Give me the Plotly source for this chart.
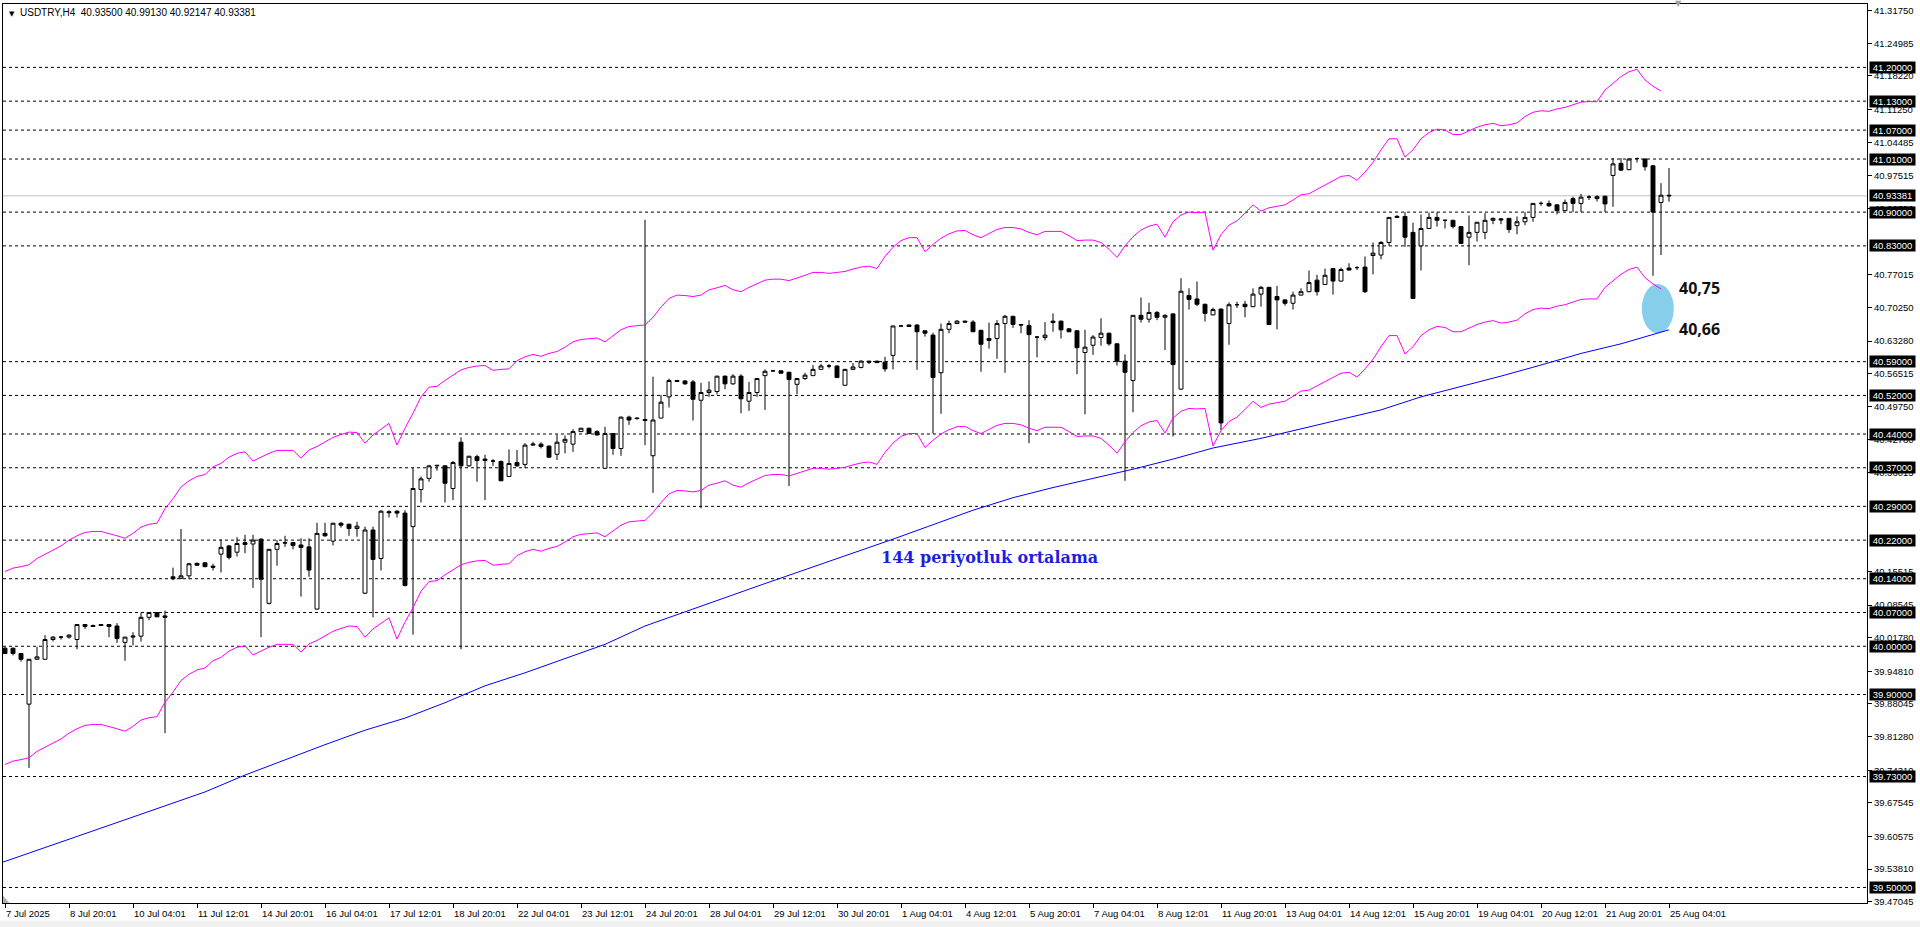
import plotly.graph_objects as go

# ---------------- data ----------------
bar_open = [
39.996,39.996,39.985,39.880,39.973,39.973,40.014,40.019,40.019,40.014,
40.045,40.043,40.045,40.045,40.042,40.008,40.019,40.021,40.060,40.070,
40.063,40.144,40.141,40.146,40.172,40.173,40.166,40.191,40.208,40.195,
40.215,40.212,40.222,40.089,40.201,40.215,40.215,40.210,40.206,40.077,
40.234,40.218,40.255,40.253,40.244,40.110,40.241,40.182,40.279,40.280,
40.276,40.248,40.325,40.348,40.374,40.374,40.327,40.423,40.374,40.393,
40.388,40.384,40.383,40.352,40.381,40.377,40.417,40.419,40.415,40.398,
40.423,40.419,40.445,40.452,40.445,40.369,40.441,40.410,40.475,40.473,
40.470,40.395,40.473,40.517,40.551,40.550,40.548,40.510,40.526,40.528,
40.560,40.544,40.560,40.508,40.526,40.561,40.571,40.571,40.568,40.543,
40.555,40.561,40.574,40.581,40.581,40.541,40.574,40.578,40.591,40.591,
40.589,40.603,40.664,40.666,40.666,40.654,40.645,40.567,40.657,40.669,
40.674,40.672,40.655,40.638,40.638,40.669,40.684,40.667,40.665,40.641,
40.640,40.674,40.674,40.658,40.654,40.609,40.624,40.640,40.649,40.627,
40.591,40.551,40.686,40.678,40.692,40.682,40.689,40.533,40.727,40.720,
40.709,40.687,40.699,40.669,40.708,40.709,40.704,40.730,40.744,40.725,
40.718,40.711,40.728,40.735,40.759,40.750,40.783,40.757,40.784,40.785,
40.786,40.810,40.811,40.837,40.891,40.891,40.858,40.830,40.866,40.889,
40.883,40.883,40.870,40.848,40.858,40.858,40.883,40.886,40.887,40.872,
40.880,40.889,40.918,40.918,40.915,40.903,40.928,40.918,40.931,40.928,
40.933,40.976,41.001,40.988,41.011,41.010,40.996,40.920,40.935]
bar_high = [
39.999,39.997,39.986,39.973,39.999,40.023,40.021,40.021,40.025,40.045,
40.046,40.045,40.046,40.046,40.048,40.019,40.029,40.070,40.070,40.071,
40.074,40.163,40.243,40.173,40.173,40.174,40.171,40.222,40.210,40.226,
40.231,40.231,40.224,40.201,40.220,40.229,40.216,40.224,40.224,40.256,
40.256,40.256,40.258,40.254,40.258,40.248,40.248,40.282,40.282,40.282,
40.282,40.371,40.352,40.376,40.376,40.375,40.384,40.433,40.394,40.397,
40.397,40.388,40.385,40.408,40.407,40.421,40.424,40.423,40.416,40.439,
40.437,40.450,40.452,40.453,40.448,40.455,40.442,40.476,40.478,40.475,
40.884,40.559,40.521,40.555,40.552,40.552,40.552,40.546,40.549,40.560,
40.561,40.564,40.564,40.548,40.556,40.574,40.572,40.572,40.569,40.555,
40.567,40.583,40.585,40.585,40.582,40.575,40.587,40.593,40.592,40.592,
40.600,40.664,40.665,40.667,40.667,40.655,40.650,40.669,40.675,40.676,
40.675,40.676,40.656,40.671,40.676,40.687,40.685,40.668,40.676,40.642,
40.672,40.690,40.675,40.659,40.655,40.656,40.645,40.680,40.650,40.628,
40.605,40.686,40.723,40.712,40.695,40.688,40.690,40.763,40.742,40.756,
40.710,40.702,40.700,40.713,40.714,40.716,40.742,40.747,40.745,40.747,
40.719,40.735,40.742,40.779,40.770,40.783,40.784,40.785,40.794,40.788,
40.808,40.837,40.840,40.889,40.894,40.900,40.878,40.895,40.899,40.900,
40.884,40.884,40.871,40.893,40.879,40.898,40.889,40.887,40.888,40.891,
40.900,40.918,40.922,40.924,40.916,40.926,40.932,40.938,40.935,40.935,
40.934,41.012,41.012,41.012,41.013,41.011,40.997,40.960,40.99130]
bar_low = [
39.984,39.981,39.968,39.748,39.973,39.973,40.010,40.014,40.016,39.994,
40.036,40.040,40.042,40.019,40.007,39.970,40.002,40.010,40.054,40.061,
39.820,40.137,40.139,40.139,40.167,40.164,40.157,40.153,40.180,40.186,
40.193,40.121,40.019,40.087,40.167,40.206,40.201,40.103,40.144,40.076,
40.227,40.209,40.246,40.229,40.227,40.108,40.060,40.157,40.267,40.267,
40.124,40.024,40.298,40.341,40.364,40.298,40.303,39.994,40.372,40.341,
40.303,40.374,40.343,40.352,40.372,40.369,40.416,40.410,40.390,40.386,
40.400,40.403,40.444,40.440,40.437,40.368,40.397,40.395,40.459,40.470,
40.417,40.318,40.473,40.495,40.549,40.542,40.468,40.286,40.517,40.522,
40.533,40.542,40.483,40.488,40.517,40.490,40.569,40.565,40.332,40.523,
40.552,40.561,40.574,40.576,40.557,40.540,40.573,40.576,40.585,40.587,
40.569,40.574,40.663,40.662,40.573,40.642,40.441,40.482,40.649,40.668,
40.672,40.652,40.569,40.617,40.596,40.567,40.660,40.649,40.421,40.599,
40.634,40.652,40.638,40.651,40.564,40.481,40.604,40.623,40.623,40.582,
40.343,40.485,40.671,40.671,40.676,40.614,40.435,40.532,40.698,40.705,
40.673,40.686,40.448,40.625,40.701,40.682,40.703,40.704,40.667,40.657,
40.706,40.698,40.727,40.734,40.727,40.749,40.729,40.756,40.779,40.780,
40.732,40.771,40.802,40.830,40.888,40.828,40.720,40.779,40.865,40.870,
40.866,40.866,40.834,40.790,40.839,40.844,40.875,40.875,40.857,40.854,
40.873,40.880,40.913,40.911,40.895,40.902,40.900,40.900,40.925,40.922,
40.900,40.911,40.986,40.987,41.003,40.986,40.768,40.811,40.92147]
bar_close = [
39.985,39.985,39.973,39.973,39.978,40.014,40.019,40.019,40.023,40.045,
40.041,40.041,40.043,40.041,40.016,40.019,40.021,40.060,40.070,40.061,
40.060,40.140,40.146,40.171,40.168,40.165,40.164,40.205,40.184,40.213,
40.211,40.220,40.139,40.201,40.213,40.214,40.209,40.205,40.158,40.234,
40.229,40.255,40.251,40.244,40.249,40.241,40.180,40.280,40.277,40.276,
40.126,40.327,40.347,40.374,40.375,40.338,40.381,40.374,40.394,40.385,
40.385,40.384,40.343,40.379,40.374,40.417,40.419,40.414,40.392,40.423,
40.429,40.445,40.452,40.441,40.438,40.441,40.410,40.475,40.469,40.472,
40.468,40.469,40.506,40.551,40.549,40.544,40.512,40.526,40.531,40.560,
40.544,40.560,40.513,40.526,40.555,40.570,40.571,40.566,40.553,40.555,
40.562,40.574,40.581,40.581,40.557,40.574,40.579,40.591,40.589,40.588,
40.575,40.664,40.664,40.663,40.652,40.649,40.557,40.657,40.669,40.674,
40.672,40.652,40.626,40.634,40.669,40.684,40.667,40.666,40.646,40.641,
40.645,40.671,40.656,40.652,40.619,40.620,40.641,40.649,40.627,40.591,
40.568,40.686,40.678,40.692,40.682,40.686,40.584,40.736,40.719,40.709,
40.690,40.698,40.463,40.708,40.708,40.704,40.730,40.744,40.667,40.718,
40.711,40.728,40.735,40.754,40.735,40.769,40.757,40.781,40.780,40.785,
40.735,40.815,40.837,40.889,40.889,40.848,40.721,40.866,40.889,40.883,
40.883,40.870,40.835,40.858,40.879,40.883,40.887,40.884,40.864,40.880,
40.889,40.918,40.918,40.913,40.903,40.920,40.918,40.931,40.931,40.932,
40.917,41.000,40.987,41.010,41.011,40.994,40.900,40.935,40.93381]

band_upper = [
40.155,40.162,40.165,40.169,40.182,40.191,40.200,40.208,40.220,40.229,
40.236,40.238,40.238,40.234,40.229,40.224,40.234,40.247,40.253,40.255,
40.285,40.306,40.330,40.343,40.352,40.356,40.372,40.379,40.392,40.400,
40.403,40.384,40.392,40.400,40.406,40.406,40.406,40.390,40.407,40.414,
40.423,40.433,40.439,40.444,40.443,40.421,40.438,40.450,40.462,40.417,
40.452,40.483,40.517,40.537,40.539,40.551,40.562,40.573,40.578,40.581,
40.582,40.572,40.574,40.575,40.592,40.600,40.605,40.601,40.607,40.611,
40.620,40.631,40.636,40.638,40.639,40.631,40.643,40.656,40.663,40.665,
40.666,40.682,40.703,40.721,40.728,40.727,40.725,40.728,40.739,40.743,
40.748,40.739,40.735,40.744,40.752,40.759,40.761,40.761,40.758,40.763,
40.769,40.775,40.775,40.773,40.775,40.777,40.782,40.786,40.788,40.783,
40.808,40.827,40.841,40.847,40.847,40.818,40.833,40.846,40.855,40.861,
40.862,40.853,40.847,40.856,40.864,40.868,40.868,40.865,40.858,40.853,
40.860,40.860,40.860,40.851,40.841,40.842,40.842,40.837,40.823,40.806,
40.830,40.849,40.863,40.871,40.875,40.848,40.880,40.894,40.900,40.899,
40.900,40.821,40.853,40.873,40.882,40.898,40.915,40.902,40.909,40.912,
40.915,40.925,40.936,40.938,40.947,40.956,40.965,40.974,40.976,40.966,
40.983,41.003,41.029,41.052,41.052,41.014,41.029,41.052,41.065,41.072,
41.070,41.061,41.061,41.069,41.076,41.081,41.084,41.079,41.081,41.085,
41.098,41.107,41.110,41.109,41.114,41.117,41.123,41.128,41.129,41.129,
41.153,41.167,41.181,41.191,41.196,41.174,41.161,41.151]
band_lower = [
39.755,39.762,39.765,39.769,39.782,39.791,39.800,39.808,39.820,39.829,
39.836,39.838,39.838,39.834,39.829,39.824,39.834,39.847,39.852,39.854,
39.884,39.905,39.929,39.942,39.951,39.955,39.970,39.977,39.990,39.998,
40.001,39.982,39.990,39.998,40.004,40.004,40.004,39.988,40.005,40.012,
40.021,40.031,40.037,40.042,40.041,40.019,40.036,40.048,40.059,40.015,
40.050,40.080,40.114,40.134,40.136,40.148,40.158,40.169,40.174,40.177,
40.178,40.168,40.170,40.171,40.188,40.196,40.201,40.197,40.203,40.207,
40.216,40.227,40.232,40.234,40.235,40.227,40.239,40.251,40.258,40.260,
40.261,40.277,40.298,40.316,40.323,40.322,40.320,40.323,40.334,40.338,
40.343,40.334,40.330,40.339,40.347,40.354,40.356,40.356,40.353,40.358,
40.363,40.369,40.369,40.367,40.369,40.371,40.376,40.380,40.382,40.377,
40.402,40.421,40.435,40.441,40.441,40.412,40.427,40.440,40.449,40.455,
40.456,40.447,40.441,40.450,40.458,40.462,40.462,40.459,40.452,40.447,
40.454,40.454,40.454,40.445,40.435,40.436,40.436,40.431,40.417,40.400,
40.424,40.443,40.457,40.465,40.468,40.442,40.473,40.487,40.493,40.492,
40.493,40.415,40.447,40.466,40.475,40.491,40.508,40.495,40.502,40.505,
40.508,40.518,40.529,40.531,40.540,40.549,40.557,40.566,40.568,40.558,
40.575,40.595,40.621,40.644,40.644,40.606,40.621,40.644,40.656,40.663,
40.661,40.652,40.652,40.660,40.667,40.672,40.675,40.670,40.672,40.676,
40.689,40.698,40.701,40.700,40.705,40.708,40.714,40.719,40.720,40.720,
40.744,40.757,40.771,40.781,40.786,40.764,40.751,40.741]

ma_bar = [-1, 0, 8, 15, 20, 25, 30, 35, 40, 45, 50, 55, 60, 65, 70, 75, 80, 95,
          111, 116, 121, 126, 131, 136, 141, 146, 151, 157, 167, 172, 177, 182,
          187, 192, 197, 202, 208]
ma_value = [39.549, 39.554, 39.600, 39.640, 39.668, 39.698, 39.733, 39.765, 39.796,
            39.826, 39.851, 39.883, 39.918, 39.945, 39.974, 40.004, 40.042, 40.130,
            40.222, 40.252, 40.282, 40.308, 40.329, 40.348, 40.367, 40.388, 40.411,
            40.431, 40.470, 40.490, 40.517, 40.538, 40.560, 40.583, 40.607, 40.627,
            40.656]

x_label_bar = [0, 8, 16, 24, 32, 40, 48, 56, 64, 72, 80, 88, 96, 104, 112, 120,
               128, 136, 144, 152, 160, 168, 176, 184, 192, 200, 208]
x_label_text = ["7 Jul 2025", "8 Jul 20:01", "10 Jul 04:01", "11 Jul 12:01",
                "14 Jul 20:01", "16 Jul 04:01", "17 Jul 12:01", "18 Jul 20:01",
                "22 Jul 04:01", "23 Jul 12:01", "24 Jul 20:01", "28 Jul 04:01",
                "29 Jul 12:01", "30 Jul 20:01", "1 Aug 04:01", "4 Aug 12:01",
                "5 Aug 20:01", "7 Aug 04:01", "8 Aug 12:01", "11 Aug 20:01",
                "13 Aug 04:01", "14 Aug 12:01", "15 Aug 20:01", "19 Aug 04:01",
                "20 Aug 12:01", "21 Aug 20:01", "25 Aug 04:01"]

y_tick_values = [41.31750, 41.24985, 41.18220, 41.11250, 41.04485, 40.97515,
                 40.90750, 40.77015, 40.70250, 40.63280, 40.56515,
                 40.49750, 40.42780, 40.36015, 40.15515,
                 40.08545, 40.01780, 39.94810, 39.88045, 39.81280, 39.74310,
                 39.67545, 39.60575, 39.53810, 39.47045]

level_values = [41.20, 41.13, 41.07, 41.01, 40.90, 40.83, 40.59, 40.52, 40.44,
                40.37, 40.29, 40.22, 40.14, 40.07, 40.00, 39.90, 39.73, 39.50]
current_price = 40.93381
header_text = "USDTRY,H4\u00a0\u00a040.93500 40.99130 40.92147 40.93381"
ma_caption = "144 periyotluk ortalama"
zone_top_text = "40,75"
zone_bottom_text = "40,66"
zone_top = 40.751
zone_bottom = 40.649

# ---------------- figure ----------------
AXFONT = dict(family="Liberation Sans, Arial, sans-serif", size=9.5, color="#000000")
bar_index = list(range(len(bar_open)))
band_index = list(range(len(band_upper)))

fig = go.Figure()
fig.add_trace(go.Candlestick(
    x=bar_index, open=bar_open, high=bar_high, low=bar_low, close=bar_close,
    increasing=dict(line=dict(color="#000000", width=1), fillcolor="#FFFFFF"),
    decreasing=dict(line=dict(color="#000000", width=1), fillcolor="#000000"),
    whiskerwidth=0, showlegend=False, hoverinfo="skip"))
fig.add_trace(go.Scatter(x=band_index, y=band_upper, mode="lines",
                         line=dict(color="#FF00FF", width=1), showlegend=False, hoverinfo="skip"))
fig.add_trace(go.Scatter(x=band_index, y=band_lower, mode="lines",
                         line=dict(color="#FF00FF", width=1), showlegend=False, hoverinfo="skip"))
fig.add_trace(go.Scatter(x=ma_bar, y=ma_value, mode="lines",
                         line=dict(color="#0000FF", width=1), showlegend=False, hoverinfo="skip"))

shapes = []
for v in level_values:
    shapes.append(dict(type="line", xref="paper", yref="y", x0=0, x1=1, y0=v, y1=v,
                       line=dict(color="#000000", width=1, dash="3px,3px"), layer="below"))
shapes.append(dict(type="line", xref="paper", yref="y", x0=0, x1=1,
                   y0=current_price, y1=current_price,
                   line=dict(color="#C0C0C0", width=1), layer="below"))
shapes.append(dict(type="circle", xref="x", yref="y", x0=204.6, x1=208.6,
                   y0=zone_bottom, y1=zone_top, fillcolor="#87CEEB",
                   line=dict(width=0), layer="below"))
shapes.append(dict(type="path", xref="paper", yref="paper",
                   path="M 0,0 L 0,0.008 L 0.0035,0 Z", fillcolor="#B0B0B0",
                   line=dict(width=0)))
shapes.append(dict(type="rect", xref="paper", yref="paper", x0=-0.01, x1=1.04,
                   y0=-0.03, y1=-0.0195, fillcolor="#F0F0F0", line=dict(width=0)))

annotations = []
for b, t in zip(x_label_bar, x_label_text):
    annotations.append(dict(x=b, y=0, xref="x", yref="paper", text=t, showarrow=False,
                            xanchor="left", yanchor="top", yshift=-3, xshift=-1, font=AXFONT))
for v in level_values + [current_price]:
    annotations.append(dict(x=1, y=v, xref="paper", yref="y", text=f"{v:.5f}",
                            showarrow=False, xanchor="left", yanchor="middle", xshift=2,
                            bgcolor="#000000", width=45, height=11, align="center",
                            borderpad=0,
                            font=dict(family=AXFONT["family"], size=9.5, color="#FFFFFF")))
annotations.append(dict(x=0, y=1, xref="paper", yref="paper", text="\u25BC",
                        showarrow=False, xanchor="left", yanchor="top", xshift=4, yshift=-4,
                        font=dict(family="DejaVu Sans", size=7, color="#000000")))
annotations.append(dict(x=0, y=1, xref="paper", yref="paper", text=header_text,
                        showarrow=False, xanchor="left", yanchor="top", xshift=15, yshift=-1,
                        font=dict(family=AXFONT["family"], size=10, color="#000000")))
annotations.append(dict(x=209.2, y=1, xref="x", yref="paper", text="\u25BC",
                        showarrow=False, xanchor="center", yanchor="middle", yshift=1,
                        font=dict(family="DejaVu Sans", size=8, color="#A0A0A0")))
annotations.append(dict(x=123.1, y=40.179, xref="x", yref="y", text="<b>" + ma_caption + "</b>",
                        showarrow=False, xanchor="center", yanchor="middle", yshift=2,
                        font=dict(family="DejaVu Serif, serif", size=16, color="#1E1EDC")))
annotations.append(dict(x=209.0, y=40.7427, xref="x", yref="y", text="<b>" + zone_top_text + "</b>",
                        showarrow=False, xanchor="left", yanchor="middle",
                        font=dict(family="Open Sans, sans-serif", size=16, color="#111111")))
annotations.append(dict(x=209.0, y=40.6577, xref="x", yref="y", text="<b>" + zone_bottom_text + "</b>",
                        showarrow=False, xanchor="left", yanchor="middle",
                        font=dict(family="Open Sans, sans-serif", size=16, color="#111111")))

fig.update_layout(
    width=1920, height=927,
    margin=dict(l=3, r=53, t=4, b=24, pad=0),
    paper_bgcolor="#FFFFFF", plot_bgcolor="#FFFFFF",
    showlegend=False, shapes=shapes, annotations=annotations,
    hovermode=False,
    xaxis=dict(range=[-0.25, 232.75], showgrid=False, zeroline=False,
               showline=True, linecolor="#000000", linewidth=1, mirror=True,
               ticks="outside", ticklen=4, tickcolor="#000000",
               tickvals=x_label_bar, showticklabels=False,
               rangeslider=dict(visible=False), fixedrange=True),
    yaxis=dict(range=[39.4678, 41.3314], side="right", showgrid=False, zeroline=False,
               showline=True, linecolor="#000000", linewidth=1, mirror=True,
               ticks="outside", ticklen=4, tickcolor="#000000",
               tickvals=y_tick_values, ticktext=[f"{v:.5f}" for v in y_tick_values],
               tickfont=AXFONT, fixedrange=True),
)

fig.write_html("out.html",
               config={"displayModeBar": False, "staticPlot": True},
               post_script="document.body.style.margin='0';document.body.style.padding='0';")
